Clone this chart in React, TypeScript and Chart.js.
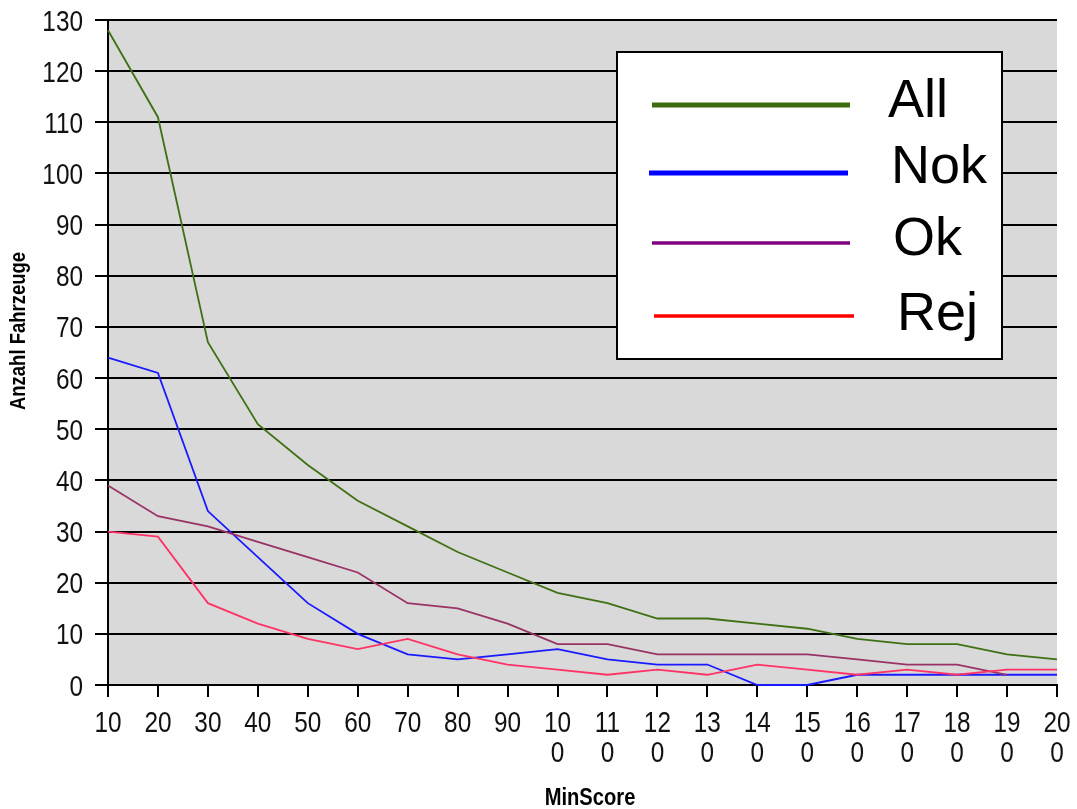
import React, { useEffect, useRef } from "react";
import { Chart, registerables } from "chart.js";

Chart.register(...registerables);

// MinScore thresholds along the x axis
const minScores = [10, 20, 30, 40, 50, 60, 70, 80, 90, 100, 110, 120, 130, 140, 150, 160, 170, 180, 190, 200];

// Tick labels wrap after two characters, as in the narrow category slots
const xTickLabels: (string | string[])[] = [
  "10", "20", "30", "40", "50", "60", "70", "80", "90",
  ["10", "0"], ["11", "0"], ["12", "0"], ["13", "0"], ["14", "0"], ["15", "0"],
  ["16", "0"], ["17", "0"], ["18", "0"], ["19", "0"], ["20", "0"],
];

// Number of vehicles per MinScore threshold
const allValues = [128, 111, 67, 51, 43, 36, 31, 26, 22, 18, 16, 13, 13, 12, 11, 9, 8, 8, 6, 5];
const nokValues = [64, 61, 34, 25, 16, 10, 6, 5, 6, 7, 5, 4, 4, 0, 0, 2, 2, 2, 2, 2];
const okValues = [39, 33, 31, 28, 25, 22, 16, 15, 12, 8, 8, 6, 6, 6, 6, 5, 4, 4, 2, null];
const rejValues = [30, 29, 16, 12, 9, 7, 9, 6, 4, 3, 2, 3, 2, 4, 3, 2, 3, 2, 3, 3];

const seriesNames = ["All", "Nok", "Ok", "Rej"];

const yMin = 0;
const yMax = 130;
const yStep = 10;

const SANS = "'Liberation Sans', Arial, sans-serif";
// horizontal squeeze that gives the axis text its narrow look
const NARROW_SCALE = 0.84;

// line colours in the plot and the swatch colours in the legend box
const lineColors = ["#3f7014", "#1a1aff", "#993366", "#ff3366"];
const swatchColors = ["#3d6b0d", "#0000ff", "#800080", "#ff0000"];

function narrowText(ctx: CanvasRenderingContext2D, text: string, x: number, y: number, align: CanvasTextAlign) {
  ctx.save();
  ctx.translate(x, y);
  ctx.scale(NARROW_SCALE, 1);
  ctx.textAlign = align;
  ctx.fillText(text, 0, 0);
  ctx.restore();
}

// grey plot background
const plotBackground = {
  id: "plotBackground",
  beforeDraw(chart: any) {
    const { ctx, chartArea } = chart;
    ctx.save();
    ctx.fillStyle = "#d9d9d9";
    ctx.fillRect(chartArea.left, chartArea.top, chartArea.right - chartArea.left, chartArea.bottom - chartArea.top);
    ctx.restore();
  },
};

// tick labels in a narrow face, placed from the scales' own tick positions
const narrowTickLabels = {
  id: "narrowTickLabels",
  afterDraw(chart: any) {
    const { ctx } = chart;
    const xs = chart.scales.x;
    const ys = chart.scales.y;
    ctx.save();
    ctx.fillStyle = "#111";
    ctx.textBaseline = "alphabetic";
    ctx.font = `29px ${SANS}`;
    ys.ticks.forEach((t: any, i: number) => {
      const py = ys.getPixelForTick(i);
      narrowText(ctx, String(t.label), ys.right - 25, py + 10.5, "right");
    });
    xs.ticks.forEach((t: any, i: number) => {
      const px = xs.getPixelForTick(i);
      const lines = Array.isArray(t.label) ? t.label : [t.label];
      lines.forEach((line: string, j: number) => {
        narrowText(ctx, line, px, xs.top + 47 + j * 30, "center");
      });
    });
    ctx.restore();
  },
};

// axis titles
const axisTitles = {
  id: "axisTitles",
  afterDraw(chart: any) {
    const { ctx } = chart;
    ctx.save();
    ctx.fillStyle = "#000";
    ctx.font = `bold 22px ${SANS}`;
    ctx.textBaseline = "alphabetic";
    ctx.translate(25, 331);
    ctx.rotate(-Math.PI / 2);
    narrowText(ctx, "Anzahl Fahrzeuge", 0, 0, "center");
    ctx.restore();

    ctx.save();
    ctx.fillStyle = "#000";
    ctx.font = `bold 24px ${SANS}`;
    ctx.textBaseline = "alphabetic";
    narrowText(ctx, "MinScore", 590, 805, "center");
    ctx.restore();
  },
};

// boxed legend in the upper right of the plot
const boxLegend = {
  id: "boxLegend",
  afterDraw(chart: any) {
    const { ctx } = chart;
    const box = { x: 617, y: 52, w: 385, h: 307 };
    const rows = [
      { x1: 652, x2: 850, y: 105, lw: 5, tx: 888, ty: 117 },
      { x1: 649, x2: 848, y: 173, lw: 5, tx: 891, ty: 183 },
      { x1: 652, x2: 850, y: 243, lw: 3.5, tx: 893, ty: 255 },
      { x1: 654, x2: 854, y: 316, lw: 3.5, tx: 897, ty: 330 },
    ];
    ctx.save();
    ctx.fillStyle = "#ffffff";
    ctx.fillRect(box.x, box.y, box.w, box.h);
    ctx.strokeStyle = "#000";
    ctx.lineWidth = 2;
    ctx.strokeRect(box.x, box.y, box.w, box.h);
    chart.data.datasets.forEach((ds: any, i: number) => {
      const r = rows[i];
      ctx.beginPath();
      ctx.strokeStyle = swatchColors[i];
      ctx.lineWidth = r.lw;
      ctx.lineCap = "butt";
      ctx.moveTo(r.x1, r.y);
      ctx.lineTo(r.x2, r.y);
      ctx.stroke();
      ctx.fillStyle = "#000";
      ctx.font = `54px ${SANS}`;
      ctx.textAlign = "left";
      ctx.textBaseline = "alphabetic";
      ctx.fillText(ds.label, r.tx, r.ty);
    });
    ctx.restore();
  },
};

export default function App() {
  const canvasRef = useRef<HTMLCanvasElement | null>(null);

  useEffect(() => {
    const canvas = canvasRef.current;
    if (!canvas) return;
    const seriesValues = [allValues, nokValues, okValues, rejValues];
    const chart = new Chart(canvas, {
      type: "line",
      data: {
        labels: xTickLabels,
        datasets: seriesValues.map((values, i) => ({
          label: seriesNames[i],
          data: values,
          borderColor: lineColors[i],
          backgroundColor: lineColors[i],
          borderWidth: 1.8,
          pointRadius: 0,
          tension: 0,
          fill: false,
          order: seriesValues.length - 1 - i,
          clip: 6,
        })),
      },
      options: {
        responsive: false,
        animation: false,
        devicePixelRatio: 1,
        layout: { padding: { left: 0, top: 20, right: 20, bottom: 0 } },
        plugins: {
          legend: { display: false },
          tooltip: { enabled: false },
          title: { display: false },
        },
        scales: {
          x: {
            type: "category",
            offset: false,
            afterFit: (scale: any) => {
              scale.height = 124;
              scale.paddingLeft = 0;
              scale.paddingRight = 0;
            },
            grid: {
              drawOnChartArea: false,
              drawTicks: true,
              tickLength: 12,
              color: "#000",
              lineWidth: 2,
            },
            border: { display: true, color: "#000", width: 2 },
            ticks: { display: false, autoSkip: false, maxRotation: 0, minRotation: 0 },
          },
          y: {
            min: yMin,
            max: yMax,
            afterFit: (scale: any) => {
              scale.width = 108;
              scale.paddingTop = 0;
              scale.paddingBottom = 0;
            },
            grid: {
              color: "#000",
              lineWidth: 2,
              tickLength: 13,
              drawTicks: true,
            },
            border: { display: true, color: "#000", width: 2 },
            ticks: { display: false, stepSize: yStep },
          },
        },
      },
      plugins: [plotBackground, narrowTickLabels, axisTitles, boxLegend],
    });
    return () => chart.destroy();
  }, []);

  return (
    <div style={{ position: "fixed", left: 0, top: 0, width: 1077, height: 809, background: "#fff" }}>
      <canvas ref={canvasRef} width={1077} height={809} style={{ display: "block" }} />
    </div>
  );
}
